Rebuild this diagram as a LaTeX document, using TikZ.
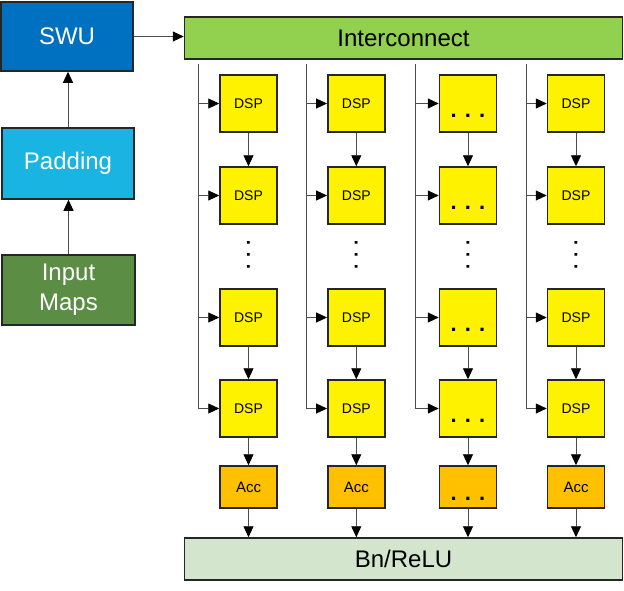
\documentclass[tikz,border=0pt]{standalone}
\usepackage{fontspec}
\setmainfont{Liberation Sans}
\usepackage{tikz}
\usetikzlibrary{arrows.meta}
\definecolor{swublue}{HTML}{0070C0}
\definecolor{padblue}{HTML}{1AB4E2}
\definecolor{mapgreen}{HTML}{5B8D45}
\definecolor{icgreen}{HTML}{92D050}
\definecolor{accorange}{HTML}{FFC000}
\definecolor{bngreen}{HTML}{D3E5CD}
\tikzset{
  blk/.style={draw=black!85, line width=1.5pt, inner sep=0pt, align=center,
    font=\fontsize{24}{30}\selectfont},
  dspbox/.style={blk, fill=yellow, minimum width=57pt, minimum height=57pt,
    font=\fontsize{14}{17}\selectfont},
  accbox/.style={blk, fill=accorange, minimum width=57pt, minimum height=42pt,
    font=\fontsize{15}{18}\selectfont},
  dotsin/.style={label={[font=\fontsize{22}{26}\selectfont\bfseries, yshift=-12pt]center:. . .}},
  vdotsnode/.style={rotate=90, inner sep=0pt, font=\fontsize{19}{22}\selectfont\bfseries},
  arr/.style={draw=black!70, line width=0.9pt, -{Triangle[length=11pt,width=10pt,color=black]}}
}
\begin{document}
\begin{tikzpicture}[x=1pt,y=-1pt]
    \useasboundingbox (0,0) rectangle (624,590);
    \node[blk, fill=swublue, text=white, minimum width=132pt, minimum height=69pt] (swu) at (67,36.5) {SWU};
    \node[blk, fill=padblue, text=white, minimum width=132pt, minimum height=71pt] (pad) at (68,163.5) {Padding};
    \node[blk, fill=mapgreen, text=white, minimum width=133pt, minimum height=70pt] (inp) at (68.5,290) {Input\\Maps};
    \node[blk, fill=icgreen, minimum width=438pt, minimum height=42pt] (ic) at (403.5,38) {Interconnect};
    \node[blk, fill=bngreen, minimum width=438pt, minimum height=42pt] (bn) at (403.5,559) {Bn/ReLU};
    \draw[arr] (inp.north) -- (inp.north |- pad.south);
    \draw[arr] (pad.north) -- (pad.north |- swu.south);
    \draw[arr] (swu.east) -- (swu.east -| ic.west);
    \coordinate (b1) at (198,0);
    \coordinate (b2) at (306,0);
    \coordinate (b3) at (415.5,0);
    \coordinate (b4) at (526.5,0);
    \node[dspbox] (d11) at (248.5,103.5) {DSP};
    \node[dspbox] (d12) at (248.5,195.5) {DSP};
    \node[vdotsnode] (v1) at (248.5,254.7) {. . .};
    \node[dspbox] (d13) at (248.5,317.5) {DSP};
    \node[dspbox] (d14) at (248.5,408.5) {DSP};
    \node[accbox] (a1) at (248.5,487) {Acc};
    \node[dspbox] (d21) at (356.3,103.5) {DSP};
    \node[dspbox] (d22) at (356.3,195.5) {DSP};
    \node[vdotsnode] (v2) at (356.3,254.7) {. . .};
    \node[dspbox] (d23) at (356.3,317.5) {DSP};
    \node[dspbox] (d24) at (356.3,408.5) {DSP};
    \node[accbox] (a2) at (356.3,487) {Acc};
    \node[dspbox, dotsin] (d31) at (468,103.5) {};
    \node[dspbox, dotsin] (d32) at (468,195.5) {};
    \node[vdotsnode] (v3) at (468,254.7) {. . .};
    \node[dspbox, dotsin] (d33) at (468,317.5) {};
    \node[dspbox, dotsin] (d34) at (468,408.5) {};
    \node[accbox, dotsin] (a3) at (468,487) {};
    \node[dspbox] (d41) at (576,103.5) {DSP};
    \node[dspbox] (d42) at (576,195.5) {DSP};
    \node[vdotsnode] (v4) at (576,254.7) {. . .};
    \node[dspbox] (d43) at (576,317.5) {DSP};
    \node[dspbox] (d44) at (576,408.5) {DSP};
    \node[accbox] (a4) at (576,487) {Acc};
    \foreach \c in {1,2,3,4} {
        \draw[arr, shorten <=4pt] (ic.south -| b\c) |- (d\c4.west);
        \draw[arr] (b\c |- d\c1) -- (d\c1.west);
        \draw[arr] (b\c |- d\c2) -- (d\c2.west);
        \draw[arr] (b\c |- d\c3) -- (d\c3.west);
        \draw[arr] (d\c1) -- (d\c2);
        \draw[arr] (d\c3) -- (d\c4);
        \draw[arr] (d\c4) -- (a\c);
        \draw[arr] (a\c) -- (a\c.south |- bn.north);
    }
\end{tikzpicture}
\end{document}
